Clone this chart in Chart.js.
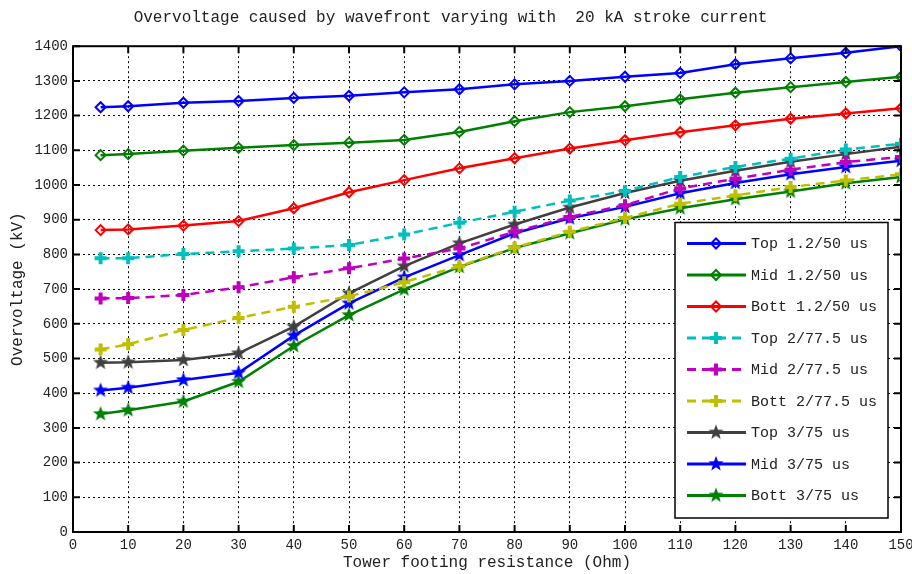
<!DOCTYPE html>
<html>
<head>
<meta charset="utf-8">
<script src="https://cdn.jsdelivr.net/npm/chart.js@4/dist/chart.umd.min.js"></script>
<style>
  html, body { margin: 0; padding: 0; background: #fff; }
  #wrap { width: 912px; height: 574px; }
</style>
</head>
<body>
<div id="wrap"><canvas id="chart"></canvas></div>
<script>
// Tower footing resistance (Ohm)
const resistance = [5, 10, 20, 30, 40, 50, 60, 70, 80, 90, 100, 110, 120, 130, 140, 150];

// Overvoltage (kV) per wavefront / tower position
const top1250 = [1224, 1227, 1237, 1242, 1251, 1257, 1267, 1276, 1290, 1300, 1312, 1323, 1348, 1365, 1381, 1400];
const mid1250 = [1086, 1089, 1099, 1107, 1115, 1122, 1130, 1153, 1184, 1210, 1227, 1247, 1266, 1282, 1297, 1312];
const bott1250 = [870, 872, 883, 896, 933, 979, 1014, 1048, 1077, 1105, 1129, 1152, 1172, 1191, 1206, 1221];
const top2775 = [789, 789, 801, 809, 817, 827, 857, 891, 923, 955, 983, 1023, 1052, 1076, 1102, 1119];
const mid2775 = [673, 674, 683, 705, 734, 760, 788, 817, 865, 908, 942, 990, 1018, 1044, 1066, 1081];
const bott2775 = [526, 541, 582, 617, 649, 679, 720, 766, 820, 865, 905, 946, 970, 994, 1013, 1031];
const top375 = [488, 489, 496, 515, 592, 688, 766, 832, 886, 935, 977, 1012, 1041, 1067, 1089, 1110];
const mid375 = [408, 416, 438, 459, 566, 659, 734, 798, 861, 904, 937, 976, 1006, 1031, 1052, 1070];
const bott375 = [340, 351, 376, 433, 536, 625, 699, 764, 818, 861, 901, 933, 959, 981, 1005, 1023];

const seriesNames = [
  'Top 1.2/50 us', 'Mid 1.2/50 us', 'Bott 1.2/50 us',
  'Top 2/77.5 us', 'Mid 2/77.5 us', 'Bott 2/77.5 us',
  'Top 3/75 us', 'Mid 3/75 us', 'Bott 3/75 us'
];
const seriesValues = [top1250, mid1250, bott1250, top2775, mid2775, bott2775, top375, mid375, bott375];
const seriesColors = ['#0000ff', '#008000', '#ff0000', '#00bfbf', '#bf00bf', '#bfbf00', '#404040', '#0000ff', '#008000'];

const FONT = "'Liberation Mono', 'DejaVu Sans Mono', monospace";

// filled five-point star marker
function starMarker(color, r) {
    const c = document.createElement('canvas');
    c.width = c.height = Math.ceil(2 * r + 2);
    const g = c.getContext('2d');
    const cx = c.width / 2, cy = c.height / 2;
    g.beginPath();
    for (let i = 0; i < 10; i++) {
        const a = -Math.PI / 2 + i * Math.PI / 5;
        const rad = i % 2 ? r * 0.42 : r;
        const px = cx + rad * Math.cos(a), py = cy + rad * Math.sin(a);
        if (i === 0) g.moveTo(px, py); else g.lineTo(px, py);
    }
    g.closePath();
    g.fillStyle = color;
    g.fill();
    return c;
}

const datasets = seriesValues.map((vals, i) => {
    const color = seriesColors[i];
    const group = Math.floor(i / 3);
    const ds = {
        label: seriesNames[i],
        data: resistance.map((x, k) => ({ x, y: vals[k] })),
        borderColor: color,
        backgroundColor: color,
        borderWidth: 2.5,
        pointBorderColor: color,
        tension: 0
    };
    if (group === 0) {
        ds.pointStyle = 'rectRot';
        ds.pointRadius = 5;
        ds.pointBackgroundColor = 'rgba(255,255,255,0)';
        ds.pointBorderWidth = 2;
    } else if (group === 1) {
        ds.borderDash = [9, 6];
        ds.pointStyle = 'cross';
        ds.pointRadius = 6;
        ds.pointBorderWidth = 4;
    } else {
        ds.pointStyle = starMarker(color, 8);
        ds.pointRadius = 8;
    }
    return ds;
});

// axis box with inward ticks on all sides
const boxPlugin = {
    id: 'box',
    afterDraw(chart) {
        const { ctx, chartArea: a, scales } = chart;
        ctx.save();
        ctx.strokeStyle = '#000';
        ctx.lineWidth = 2;
        ctx.strokeRect(a.left, a.top, a.right - a.left, a.bottom - a.top);
        ctx.beginPath();
        scales.x.ticks.forEach(t => {
            const px = scales.x.getPixelForValue(t.value);
            ctx.moveTo(px, a.bottom); ctx.lineTo(px, a.bottom - 7);
            ctx.moveTo(px, a.top); ctx.lineTo(px, a.top + 7);
        });
        scales.y.ticks.forEach(t => {
            const py = scales.y.getPixelForValue(t.value);
            ctx.moveTo(a.left, py); ctx.lineTo(a.left + 7, py);
            ctx.moveTo(a.right, py); ctx.lineTo(a.right - 7, py);
        });
        ctx.stroke();
        ctx.restore();
    }
};

// legend drawn inside the plot, bottom right
const legendPlugin = {
    id: 'innerLegend',
    afterDraw(chart) {
        const { ctx, chartArea: a } = chart;
        const w = 213, rowH = 31.5;
        const h = rowH * chart.data.datasets.length + 12;
        const x0 = a.right - 13 - w, y0 = a.bottom - 14 - h;
        ctx.save();
        ctx.fillStyle = '#fff';
        ctx.fillRect(x0, y0, w, h);
        ctx.strokeStyle = '#000';
        ctx.lineWidth = 1.5;
        ctx.strokeRect(x0, y0, w, h);
        chart.data.datasets.forEach((ds, i) => {
            const cy = y0 + 21 + i * rowH;
            ctx.strokeStyle = ds.borderColor;
            ctx.lineWidth = 3;
            ctx.setLineDash(ds.borderDash || []);
            ctx.beginPath();
            ctx.moveTo(x0 + 12, cy);
            ctx.lineTo(x0 + 71, cy);
            ctx.stroke();
            ctx.setLineDash([]);
            ctx.fillStyle = ds.pointBackgroundColor || ds.borderColor;
            ctx.strokeStyle = ds.borderColor;
            ctx.lineWidth = ds.pointBorderWidth || 1;
            Chart.helpers.drawPoint(ctx, {
                pointStyle: ds.pointStyle,
                radius: ds.pointRadius,
                borderWidth: ds.pointBorderWidth || 1,
                rotation: 0
            }, x0 + 41, cy);
            ctx.fillStyle = '#222';
            ctx.font = '15px ' + FONT;
            ctx.textBaseline = 'middle';
            ctx.fillText(ds.label, x0 + 76, cy + 1);
        });
        ctx.restore();
    }
};

new Chart(document.getElementById('chart'), {
    type: 'line',
    data: { datasets },
    options: {
        responsive: true,
        maintainAspectRatio: false,
        animation: false,
        layout: { padding: { top: 0, right: 11, left: 0, bottom: 0 } },
        plugins: {
            legend: { display: false },
            tooltip: { enabled: false },
            title: {
                display: true,
                text: 'Overvoltage caused by wavefront varying with  20 kA stroke current',
                color: '#222',
                font: { family: FONT, size: 16, weight: 'normal' },
                padding: { top: 8, bottom: 19 }
            }
        },
        scales: {
            x: {
                type: 'linear',
                min: 0,
                max: 150,
                afterFit(s) { s.height = 42; s.paddingRight = 0; },
                ticks: {
                    stepSize: 10,
                    color: '#222',
                    padding: 5,
                    maxRotation: 0,
                    font: { family: FONT, size: 14 }
                },
                grid: { color: '#000', lineWidth: 1, drawTicks: false },
                border: { display: false, dash: [2, 3] },
                title: {
                    display: true,
                    text: 'Tower footing resistance (Ohm)',
                    color: '#222',
                    font: { family: FONT, size: 16 },
                    padding: { top: 0, bottom: 2 }
                }
            },
            y: {
                min: 0,
                max: 1400,
                afterFit(s) { s.width = 73; },
                ticks: {
                    stepSize: 100,
                    color: '#222',
                    padding: 5,
                    font: { family: FONT, size: 14 },
                    callback: v => String(v)
                },
                grid: { color: '#000', lineWidth: 1, drawTicks: false },
                border: { display: false, dash: [2, 3] },
                title: {
                    display: true,
                    text: 'Overvoltage (kV)',
                    color: '#222',
                    font: { family: FONT, size: 16 },
                    padding: { top: 8, bottom: 0 }
                }
            }
        }
    },
    plugins: [boxPlugin, legendPlugin]
});
</script>
</body>
</html>
